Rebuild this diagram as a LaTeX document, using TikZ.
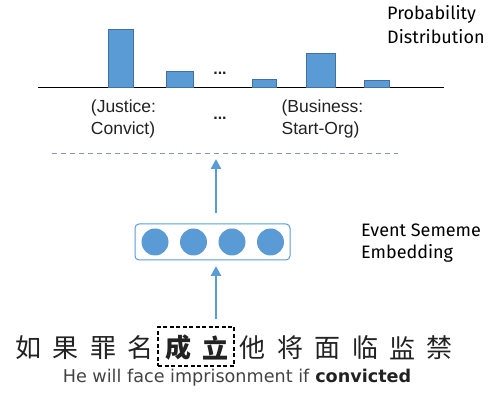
\documentclass[tikz,border=0pt]{standalone}
\usepackage{fontspec}
\setmainfont{Liberation Sans}
\newfontfamily\cjk{Noto Sans CJK SC}
\newfontfamily\fira{Fira Sans}
\newfontfamily\dvs{DejaVu Sans}
\usetikzlibrary{arrows.meta}
\definecolor{barblue}{HTML}{5B9BD5}
\definecolor{bardark}{HTML}{41719C}
\definecolor{baseline}{HTML}{A9B8CC}
\definecolor{dashc}{HTML}{8497B0}
\definecolor{txt}{HTML}{222222}
\tikzset{
  bar/.style={draw=bardark, fill=barblue, line width=0.8pt, minimum width=25pt, anchor=south, inner sep=0pt},
  uparrow/.style={draw=barblue, line width=2.6pt, -{Triangle[length=10pt,width=10pt]}},
  lab/.style={font=\fontsize{17.5}{21.5}\selectfont, align=left, inner sep=0pt, text=txt},
  side/.style={font=\fira\fontsize{18}{22}\selectfont, align=left, inner sep=0pt, anchor=north west, text=black},
  dot/.style={circle, fill=barblue, minimum size=27pt, inner sep=0pt},
  zh/.style={font=\cjk\fontsize{26}{26}\selectfont, inner sep=0pt, text=txt},
  ell/.style={font=\bfseries\fontsize{16}{16}\selectfont, inner sep=0pt, text=txt},
}
\begin{document}
\begin{tikzpicture}[x=1pt,y=-1pt]
\useasboundingbox (0,0) rectangle (491,395);
% baseline
\coordinate (bl) at (38,88);
\coordinate (br) at (444,88);
\draw[baseline, line width=1pt] (bl) -- (br);
% bars
\node[bar, minimum height=58pt] (b1) at (121,87.5) {};
\node[bar, minimum height=15.5pt, minimum width=27pt] (b2) at (179.5,87.5) {};
\node[bar, minimum height=7.5pt, minimum width=24pt] (b3) at (264,87.5) {};
\node[bar, minimum height=33.5pt, minimum width=29pt] (b4) at (320.5,87.5) {};
\node[bar, minimum height=7pt] (b5) at (376.5,87.5) {};
\node[ell] (d1) at (220,73) {...};
\node[side, font=\fira\fontsize{18}{24}\selectfont] (pd) at (387,5.5) {Probability\\Distribution};
% labels
\node[lab] (l1) at (123.5,119) {(Justice:\\Convict)};
\node[ell] (d2) at (220,118) {...};
\node[lab] (l2) at (322.5,119) {(Business:\\Start-Org)};
% dashed line
\coordinate (dl) at (52,153.5);
\coordinate (dr) at (398,153.5);
\draw[dashc, line width=1pt, dash pattern=on 5pt off 4pt] (dl) -- (dr);
% embedding box
\node[draw=barblue, line width=1pt, rounded corners=4pt, minimum width=155pt, minimum height=36pt, inner sep=0pt] (emb) at (212.5,242) {};
\foreach \i/\x in {1/155,2/193.5,3/232,4/270.5}{
  \node[dot] (c\i) at (\x,242) {};
}
\node[side] (es) at (361,224) {Event Sememe\\Embedding};
% arrows
\coordinate (a1s) at (216,213);
\coordinate (a1e) at (216,159);
\draw[uparrow] (a1s) -- (a1e);
\coordinate (a2s) at (216,319);
\coordinate (a2e) at (216,266);
\draw[uparrow] (a2s) -- (a2e);
% chinese sentence
\foreach \i/\c in {0/如,1/果,2/罪,3/名,6/他,7/将,8/面,9/临,10/监,11/禁}{
  \node[zh] (z\i) at (28.5+37.4*\i,348) {\c};
}
\node[zh, font=\cjk\bfseries\fontsize{26}{26}\selectfont] (z4) at (178.1,348) {成};
\node[zh, font=\cjk\bfseries\fontsize{26}{26}\selectfont] (z5) at (215.5,348) {立};
\node[draw=black, line width=1.4pt, dash pattern=on 4pt off 2.5pt, minimum width=76pt, minimum height=39pt, inner sep=0pt] (hl) at (196,346.5) {};
\node[font=\dvs\fontsize{17.6}{17.6}\selectfont, inner sep=0pt, text=txt!85!white] (en) at (237,378) {He will face imprisonment if \textbf{\color{txt}convicted}};
\end{tikzpicture}
\end{document}
